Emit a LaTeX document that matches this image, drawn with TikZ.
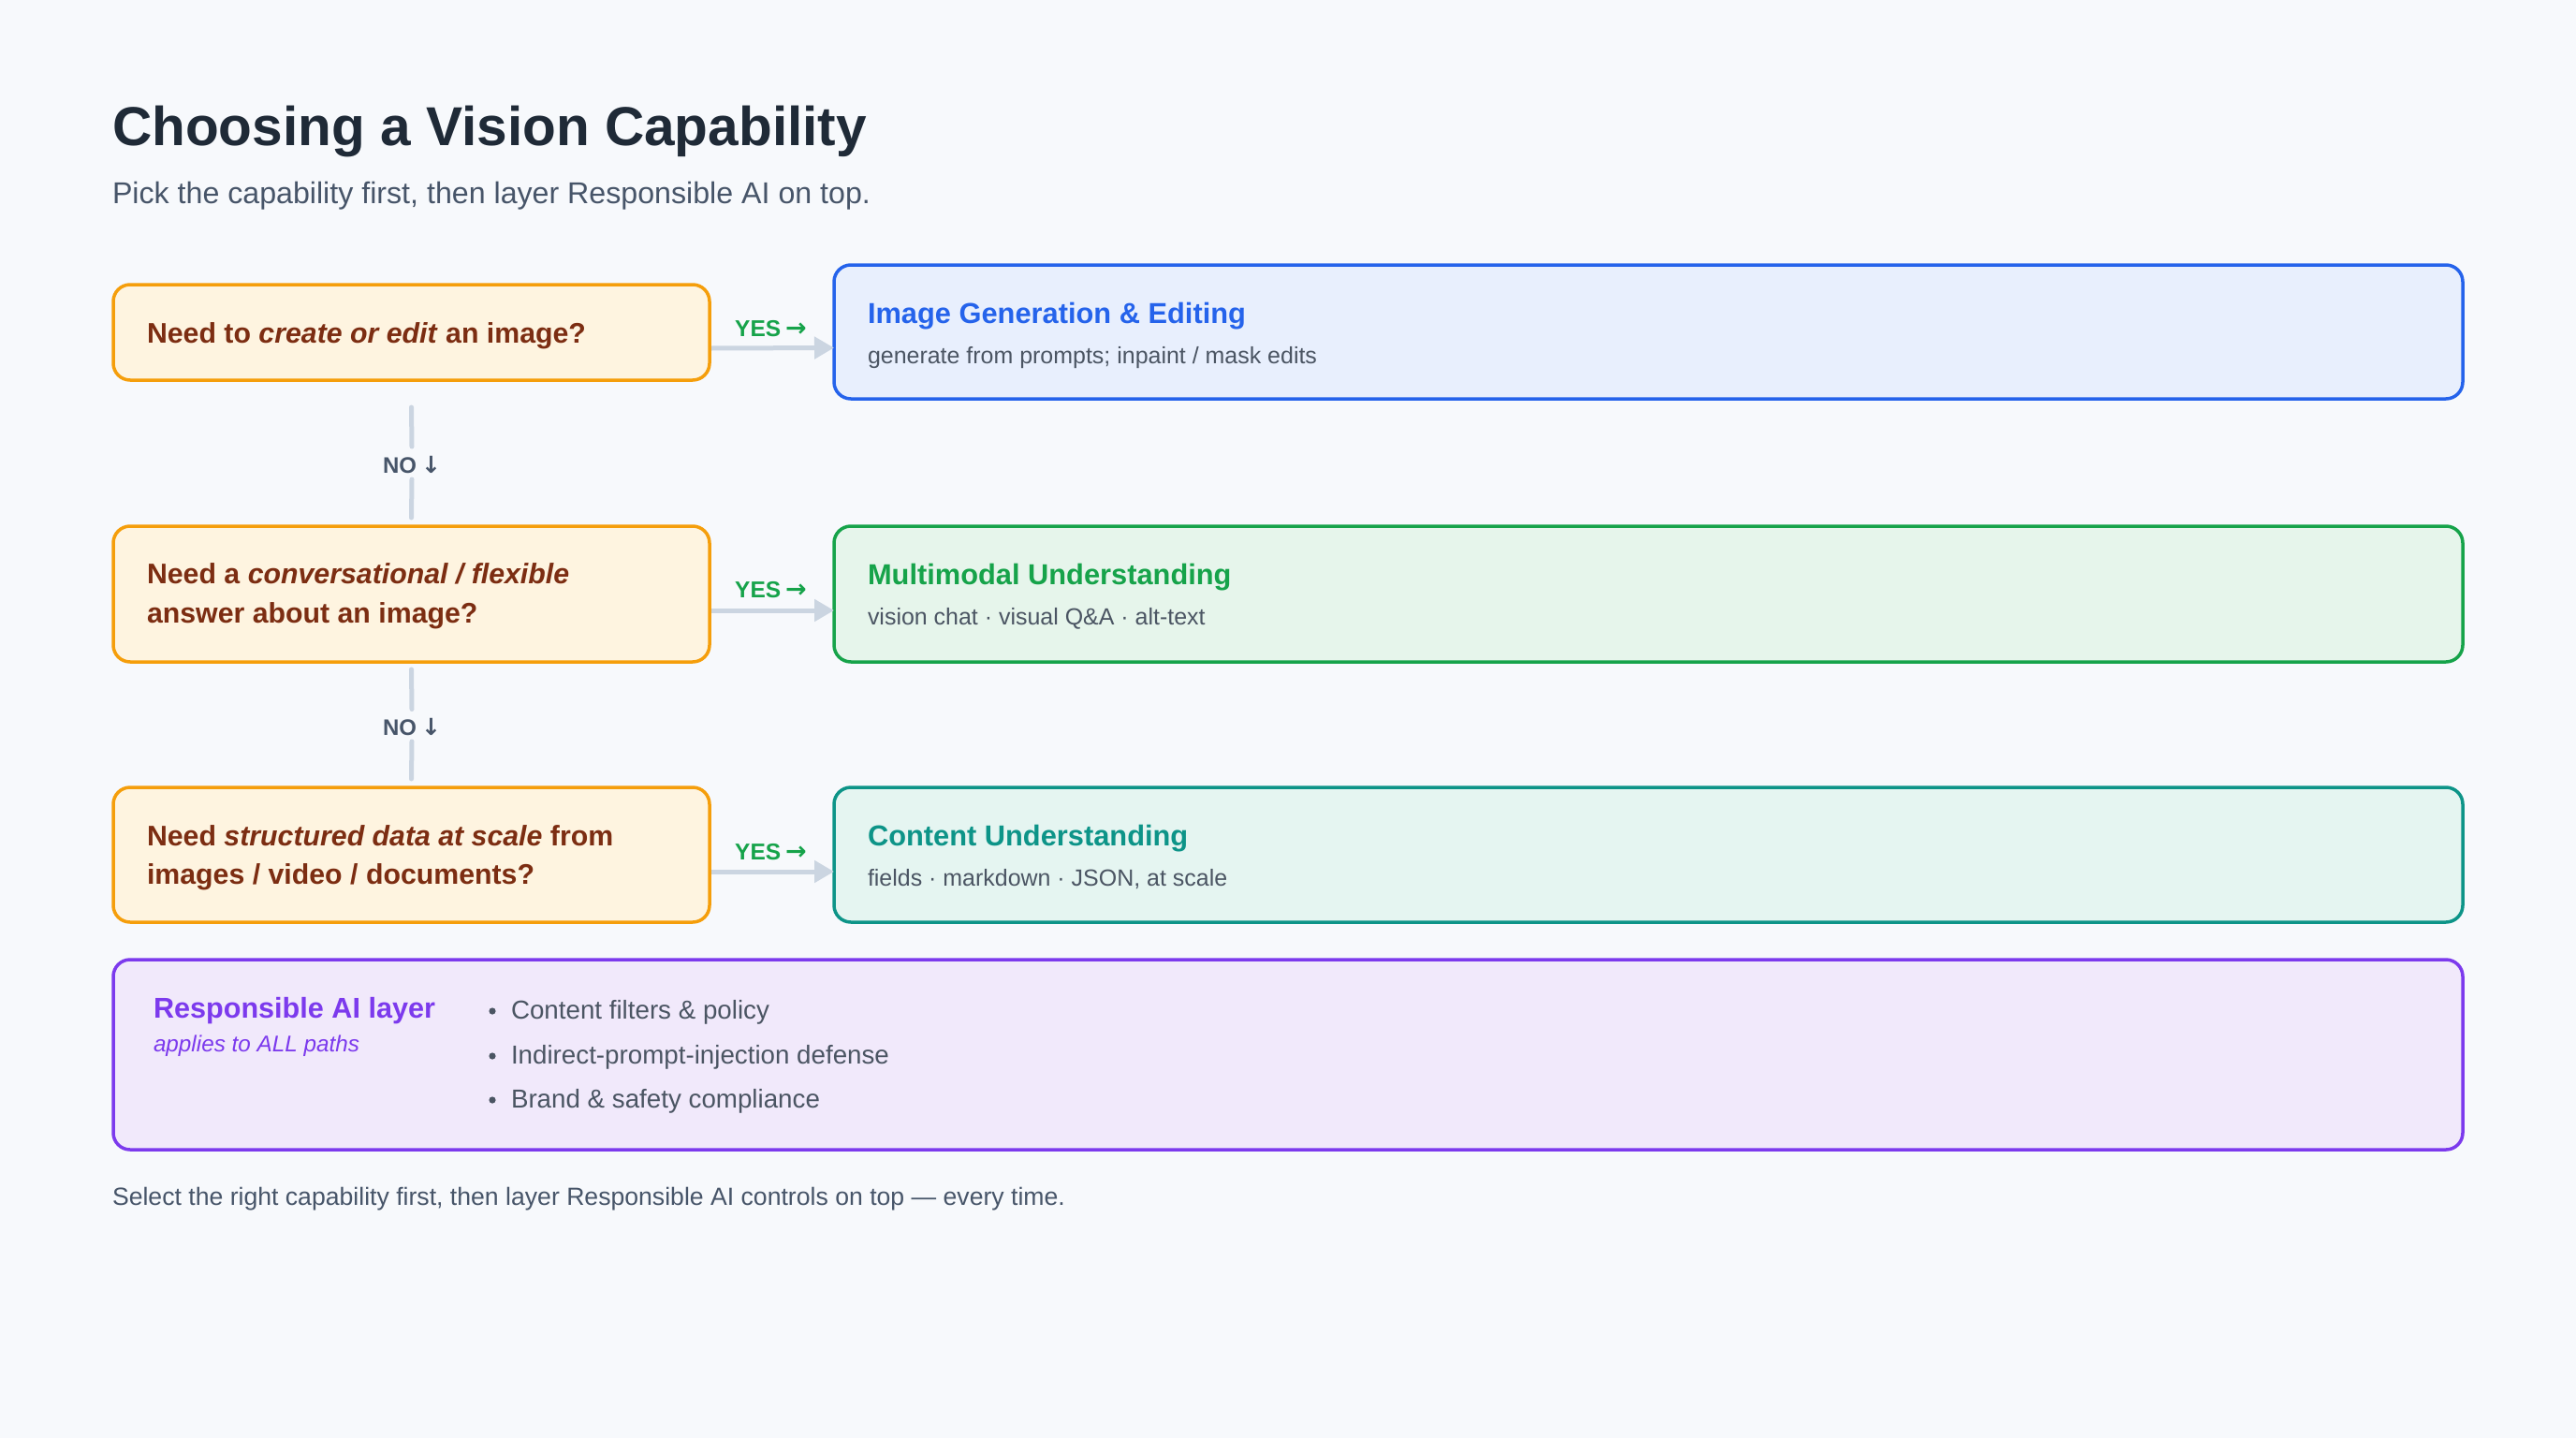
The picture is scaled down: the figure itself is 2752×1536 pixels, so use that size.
\documentclass[tikz,border=0pt]{standalone}
\usepackage{fontspec}
\setmainfont{Liberation Sans}
\newfontfamily\symf{DejaVu Sans}
\usetikzlibrary{arrows.meta}

\definecolor{bgc}{HTML}{F7F9FC}
\definecolor{titlec}{HTML}{1F2A37}
\definecolor{subc}{HTML}{4B5563}
\definecolor{qfill}{HTML}{FEF4E0}
\definecolor{qborder}{HTML}{F59E0B}
\definecolor{qtext}{HTML}{7C2D12}
\definecolor{bluec}{HTML}{2563EB}
\definecolor{bluefill}{HTML}{E8EFFD}
\definecolor{greenc}{HTML}{16A34A}
\definecolor{greenfill}{HTML}{E6F5EB}
\definecolor{tealc}{HTML}{0D9488}
\definecolor{tealfill}{HTML}{E5F5F1}
\definecolor{purplec}{HTML}{7C3AED}
\definecolor{purplefill}{HTML}{F1E9FB}
\definecolor{linec}{HTML}{CBD5E1}
\definecolor{noc}{HTML}{475569}

\newlength\fitlen
\newcommand\fitfont[3]{\settowidth\fitlen{\fontsize{10pt}{12pt}\selectfont#2#3}%
  \pgfmathsetmacro\fitsize{10*#1/\fitlen}%
  \fontsize{\fitsize pt}{\fitsize pt}\selectfont#2}
\newcommand\fittext[3]{\fitfont{#1}{#2}{#3}#3}
\newcommand\qfont{\fitfont{469}{\bfseries}{Need to \textit{create or edit} an image?}}
\newcommand\rtfont{\fitfont{404}{\bfseries}{Image Generation \& Editing}}
\newcommand\subfont{\fitfont{480}{}{generate from prompts; inpaint / mask edits}}
\newcommand\bulfont{\fitfont{404}{}{Indirect-prompt-injection defense}}
\newcommand\yestext{\fontsize{24.5pt}{24.5pt}\selectfont\bfseries YES\hspace{5pt}{\symf\bfseries\fontsize{27pt}{27pt}\selectfont →}}
\newcommand\notext{\fontsize{24pt}{24pt}\selectfont\bfseries NO\hspace{5pt}{\symf\bfseries\fontsize{25pt}{25pt}\selectfont ↓}}

\begin{document}
\begin{tikzpicture}[x=1pt,y=-1pt,
  box/.style={rounded corners=18pt, line width=3.5pt, inner sep=0pt, outer sep=0pt},
  qbox/.style={box, draw=qborder, fill=qfill, minimum width=637pt},
  rbox/.style={box, minimum width=1740pt},
  txt/.style={anchor=base west, inner sep=0pt, outer sep=0pt},
  yesarrow/.style={draw=linec, line width=5pt, -{Triangle[length=21pt,width=23pt]}},
  noline/.style={draw=linec, line width=5pt, line cap=round},
  yeslabel/.style={anchor=base west, inner sep=0pt, text=greenc},
  nolabel/.style={anchor=base, inner sep=0pt, outer sep=0pt, text height=17pt, text depth=0pt, text=noc},
  bul/.style={fill=subc}
]
\fill[bgc] (0,0) rectangle (2752,1536);
\useasboundingbox (0,0) rectangle (2752,1536);

% title
\node[txt, text=titlec] (title) at (120,156) {\fittext{806}{\bfseries}{Choosing a Vision Capability}};
\node[txt, text=noc] (subtitle) at (120,217) {\fittext{810}{}{Pick the capability first, then layer Responsible AI on top.}};

% question boxes
\node[qbox, minimum height=102pt] (q1) at (439.5,355) {};
\node[qbox, minimum height=145pt] (q2) at (439.5,634.5) {};
\node[qbox, minimum height=144pt] (q3) at (439.5,913) {};

\node[txt, text=qtext] (q1t) at (157,366) {\qfont Need to \textit{create or edit} an image?};
\node[txt, text=qtext] (q2ta) at (157,623) {\qfont Need a \textit{conversational / flexible}};
\node[txt, text=qtext] (q2tb) at (157,665) {\qfont answer about an image?};
\node[txt, text=qtext] (q3ta) at (157,903) {\qfont Need \textit{structured data at scale} from};
\node[txt, text=qtext] (q3tb) at (157,944) {\qfont images / video / documents?};

% result boxes
\node[rbox, draw=bluec, fill=bluefill, minimum height=143pt] (r1) at (1761,354.5) {};
\node[rbox, draw=greenc, fill=greenfill, minimum height=145pt] (r2) at (1761,634.5) {};
\node[rbox, draw=tealc, fill=tealfill, minimum height=144pt] (r3) at (1761,913) {};

\node[txt, text=bluec] (r1t) at (927,345) {\rtfont Image Generation \& Editing};
\node[txt, text=subc] (r1s) at (927,388) {\subfont generate from prompts; inpaint / mask edits};
\node[txt, text=greenc] (r2t) at (927,624) {\rtfont Multimodal Understanding};
\node[txt, text=subc] (r2s) at (927,667) {\subfont vision chat · visual Q\&A · alt-text};
\node[txt, text=tealc] (r3t) at (927,903) {\rtfont Content Understanding};
\node[txt, text=subc] (r3s) at (927,946) {\subfont fields · markdown · JSON, at scale};

% YES connectors
\node[yeslabel] (y1) at (785,359) {\yestext};
\node[yeslabel] (y2) at (785,638) {\yestext};
\node[yeslabel] (y3) at (785,918) {\yestext};
\draw[yesarrow] ([xshift=2pt,yshift=-17pt]q1.east) -- ([yshift=-17pt]r1.west);
\draw[yesarrow] ([xshift=2pt,yshift=-17.5pt]q2.east) -- ([yshift=-17.5pt]r2.west);
\draw[yesarrow] ([xshift=2pt,yshift=-18pt]q3.east) -- ([yshift=-18pt]r3.west);

% NO connectors
\node[nolabel] (n1) at (440,505) {\notext};
\node[nolabel] (n2) at (440,785.5) {\notext};
\draw[noline] ([yshift=-29pt]q1.south) -- ([yshift=11pt]n1.north);
\draw[noline] ([yshift=-7pt]n1.south) -- ([yshift=9pt]q2.north);
\draw[noline] ([yshift=-8pt]q2.south) -- ([yshift=11pt]n2.north);
\draw[noline] ([yshift=-6.5pt]n2.south) -- ([yshift=9pt]q3.north);

% Responsible AI layer
\node[box, draw=purplec, fill=purplefill, minimum width=2510pt, minimum height=203pt] (rai) at (1376,1126.5) {};
\node[txt, text=purplec] (rait) at (164,1087) {\fittext{301}{\bfseries}{Responsible AI layer}};
\node[txt, text=purplec] (rais) at (164,1123) {\fittext{220}{\itshape}{applies to ALL paths}};
\fill[bul] (526,1080) circle (3.6);
\fill[bul] (526,1128) circle (3.6);
\fill[bul] (526,1175) circle (3.6);
\node[txt, text=subc] (b1) at (546,1088) {\bulfont Content filters \& policy};
\node[txt, text=subc] (b2) at (546,1136) {\bulfont Indirect-prompt-injection defense};
\node[txt, text=subc] (b3) at (546,1183) {\bulfont Brand \& safety compliance};

% footer
\node[txt, text=noc] (foot) at (120,1287) {\fittext{1018}{}{Select the right capability first, then layer Responsible AI controls on top — every time.}};
\end{tikzpicture}
\end{document}
